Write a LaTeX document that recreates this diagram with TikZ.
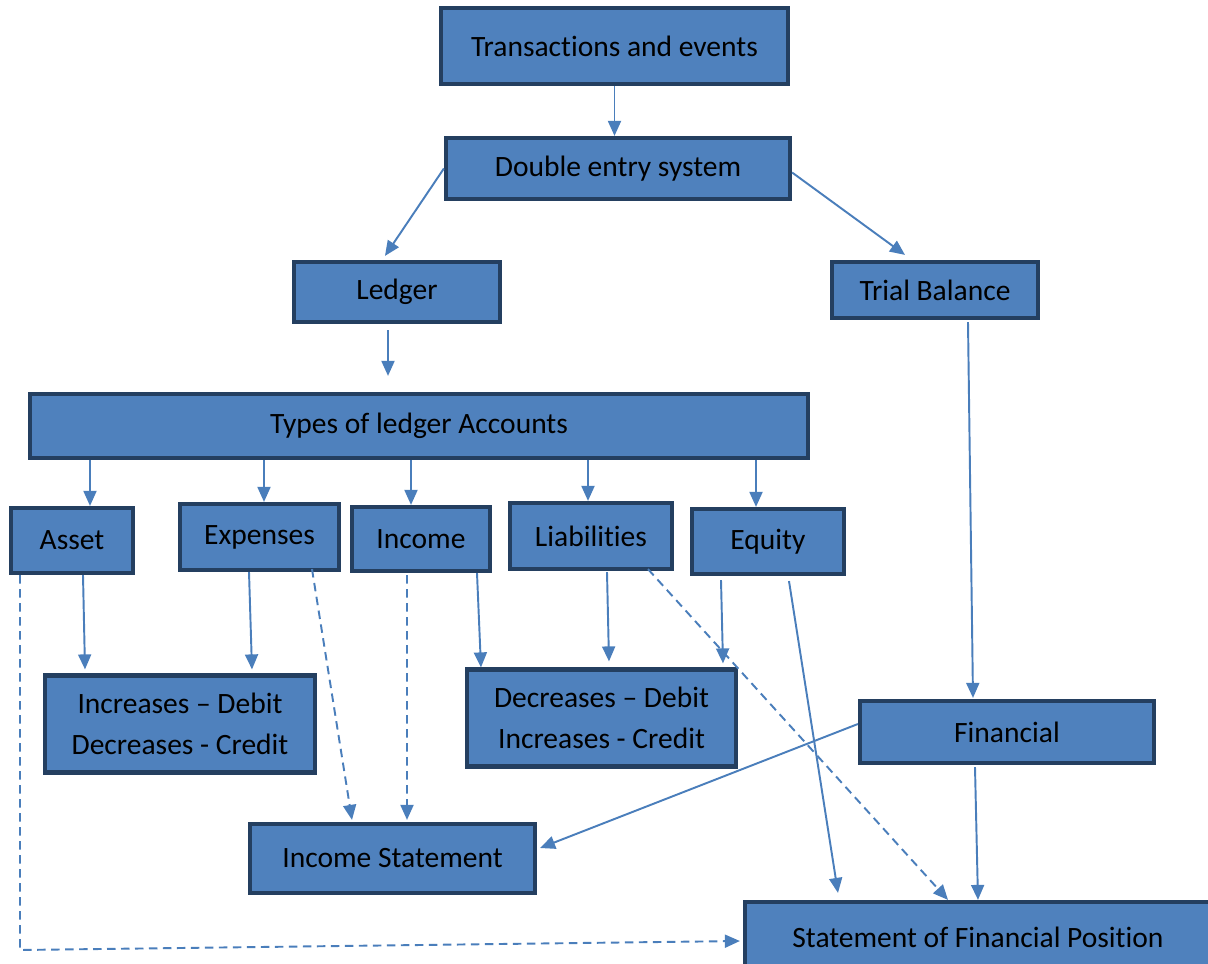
\documentclass[tikz,border=0pt]{standalone}
\usepackage{fontspec}
\setmainfont{Carlito}[Ligatures=NoCommon]
\usepackage{tikz}
\usetikzlibrary{positioning,calc,arrows.meta}
\definecolor{boxfill}{HTML}{4F81BD}
\definecolor{boxline}{HTML}{243F60}
\definecolor{linkblue}{HTML}{4A7EBB}
\tikzset{
	box/.style={draw=boxline, fill=boxfill, line width=2.4pt, inner sep=0pt, align=center, font=\fontsize{16.8}{23.3}\selectfont},
	conn/.style={draw=linkblue, line width=1.1pt, -{Triangle[width=0.26cm,length=0.3cm]}},
	dconn/.style={conn, dash pattern=on 0.17cm off 0.11cm}
}
\begin{document}
\begin{tikzpicture}[x=0.02cm, y=-0.02cm]
		\useasboundingbox (0,0) rectangle (1208,964);
		\node [box, minimum width=347*0.02cm, minimum height=76*0.02cm] (trans) at (614.5,46) {Transactions and events};
		\node [box, minimum width=344*0.02cm, minimum height=61*0.02cm] (double) at (618,168.5) {Double entry system};
		\node [box, minimum width=206*0.02cm, minimum height=60*0.02cm] (ledger) at (397,292) {Ledger};
		\node [box, minimum width=206*0.02cm, minimum height=56*0.02cm] (trial) at (935,290) {Trial Balance};
		\node [box, minimum width=778*0.02cm, minimum height=64*0.02cm] (types) at (419,426) {Types of ledger Accounts};
		\node [box, minimum width=122*0.02cm, minimum height=65*0.02cm] (asset) at (72,540.5) {Asset};
		\node [box, minimum width=159*0.02cm, minimum height=66*0.02cm] (expenses) at (259.5,537) {Expenses};
		\node [box, minimum width=138*0.02cm, minimum height=64*0.02cm] (income) at (421,539) {Income};
		\node [box, minimum width=162*0.02cm, minimum height=66*0.02cm] (liab) at (591,536) {Liabilities};
		\node [box, minimum width=152*0.02cm, minimum height=65*0.02cm] (equity) at (768,541.5) {Equity};
		\node [box, minimum width=270*0.02cm, minimum height=97*0.02cm] (incdr) at (180,724) {Increases -- Debit\\Decreases - Credit};
		\node [box, minimum width=269*0.02cm, minimum height=97*0.02cm] (decdr) at (601.5,718) {Decreases -- Debit\\Increases - Credit};
		\node [box, minimum width=294*0.02cm, minimum height=62*0.02cm] (financial) at (1007,732) {Financial};
		\node [box, minimum width=285*0.02cm, minimum height=69*0.02cm] (incstmt) at (392.5,858.5) {Income Statement};
		\node [box, minimum width=466*0.02cm, minimum height=70*0.02cm] (sfp) at (978,937) {Statement of Financial Position};
		\coordinate (assetcorner) at (20,950);

		\draw [conn] (trans.south) -- (trans.south |- double.north);
		\draw [conn] (double.west) -- ($(ledger.north)+(-12,-4)$);
		\draw [conn] ($(double.east)+(0,4)$) -- ($(trial.north)+(-30,-5)$);
		\draw [conn] ($(ledger.south)+(-9,6)$) -- ($(types.north)+(-31,-16)$);
		\foreach \acc/\dx in {asset/18, expenses/4.5, income/-10, liab/-3, equity/-12}
			\draw [conn] ($(types.south -| \acc.north)+(\dx,0)$) -- ($(\acc.north)+(\dx,0)$);
		\draw [conn] ($(asset.south)+(11,0)$) -- ($(incdr.north)+(-95,-4)$);
		\draw [conn] ($(expenses.south)+(-10.5,0)$) -- ($(incdr.north)+(72,-4)$);
		\draw [dconn] ($(expenses.south)+(52.5,-3)$) -- ($(incstmt.north)+(-40.5,-2)$);
		\draw [dconn] ($(income.south)+(-14,2)$) -- ($(incstmt.north)+(14.5,-2)$);
		\draw [conn] ($(income.south)+(56,0)$) -- ($(decdr.north)+(-120.5,0)$);
		\draw [conn] ($(liab.south)+(16,1)$) -- ($(decdr.north)+(7.5,-6)$);
		\draw [conn] ($(equity.south)+(-47,4)$) -- ($(decdr.north)+(121.5,-4)$);
		\draw [dconn] ($(liab.south)+(57,-2)$) -- ($(sfp.north)+(-30,0)$);
		\draw [conn] ($(equity.south)+(21,5)$) -- ($(sfp.north)+(-140,-7)$);
		\draw [conn] ($(trial.south)+(33,2)$) -- ($(financial.north)+(-34,-1)$);
		\draw [conn] ($(financial.west)+(0,-8)$) -- ($(incstmt.east)+(3,-10.5)$);
		\draw [conn] ($(financial.south)+(-32,2)$) -- (sfp.north);
		\draw [dconn] ($(asset.south)+(-52,0)$) -- (assetcorner) -- ($(sfp.west)+(-3,4)$);
\end{tikzpicture}
\end{document}
